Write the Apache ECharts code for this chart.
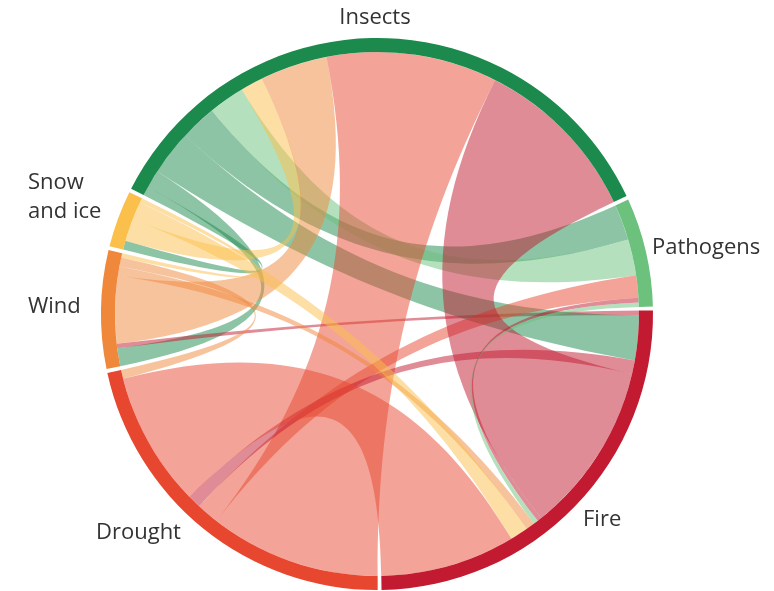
<!DOCTYPE html>
<html>
<head>
<meta charset="utf-8">
<title>Disturbance interactions</title>
<script src="https://cdn.jsdelivr.net/npm/echarts@6/dist/echarts.min.js"></script>
<style>
  html, body { margin: 0; padding: 0; background: #fff; }
  #main { width: 774px; height: 591px; }
</style>
</head>
<body>
<div id="main"></div>
<script>
// agents, clockwise from the top-left
var agents = ['Insects', 'Pathogens', 'Fire', 'Drought', 'Wind', 'Snow\nand ice'];
var agentColors = ['#1b8a4c', '#6cc17c', '#c21a30', '#e8472f', '#f0883c', '#fbbf4c'];

// interactions: [from, to, strength] (read off the ribbon widths)
// the order here sets where each ribbon sits on its arcs
var interactions = [
  ['Insects', 'Snow\nand ice', 2],
  ['Insects', 'Wind', 4],
  ['Fire', 'Wind', 1],
  ['Insects', 'Fire', 10],
  ['Insects', 'Pathogens', 8],
  ['Pathogens', 'Insects', 8],
  ['Snow\nand ice', 'Insects', 5],
  ['Wind', 'Insects', 15],
  ['Drought', 'Insects', 38],
  ['Drought', 'Pathogens', 5],
  ['Fire', 'Drought', 3],
  ['Fire', 'Insects', 38],
  ['Fire', 'Pathogens', 1],
  ['Pathogens', 'Fire', 1],
  ['Wind', 'Fire', 2],
  ['Snow\nand ice', 'Fire', 4],
  ['Drought', 'Fire', 30],
  ['Wind', 'Drought', 2],
  ['Snow\nand ice', 'Wind', 1]
];

var myChart = echarts.init(document.getElementById('main'));

var nodes = agents.map(function (name, i) {
  return {
    name: name,
    itemStyle: { color: agentColors[i] }
  };
});

var links = interactions.map(function (d) {
  return {
    source: d[0],
    target: d[1],
    value: d[2]
  };
});

// label spots outside the ring
var labelSpots = {
  'Insects': [375, 18, 'center'],
  'Pathogens': [652, 248, 'left'],
  'Fire': [583, 520, 'left'],
  'Drought': [96, 533, 'left'],
  'Wind': [28, 307, 'left'],
  'Snow\nand ice': [28, 197, 'left']
};

var labels = agents.map(function (name) {
  var s = labelSpots[name];
  return {
    type: 'text',
    x: s[0],
    y: s[1],
    style: {
      text: name,
      fill: '#333',
      font: '22px "Open Sans"',
      lineHeight: 29,
      align: s[2],
      verticalAlign: 'middle'
    }
  };
});

var option = {
  animation: false,
  graphic: labels,
  series: [
    {
      type: 'chord',
      center: [377, 314],
      radius: [262, 276],
      startAngle: 153,
      clockwise: true,
      padAngle: 0.8,
      itemStyle: {
        borderRadius: 0,
        borderWidth: 0
      },
      lineStyle: {
        color: 'source',
        opacity: 0.5
      },
      label: { show: false },
      data: nodes,
      links: links
    }
  ]
};

myChart.setOption(option);
window.onresize = function () {
  myChart.resize();
};
</script>
</body>
</html>
